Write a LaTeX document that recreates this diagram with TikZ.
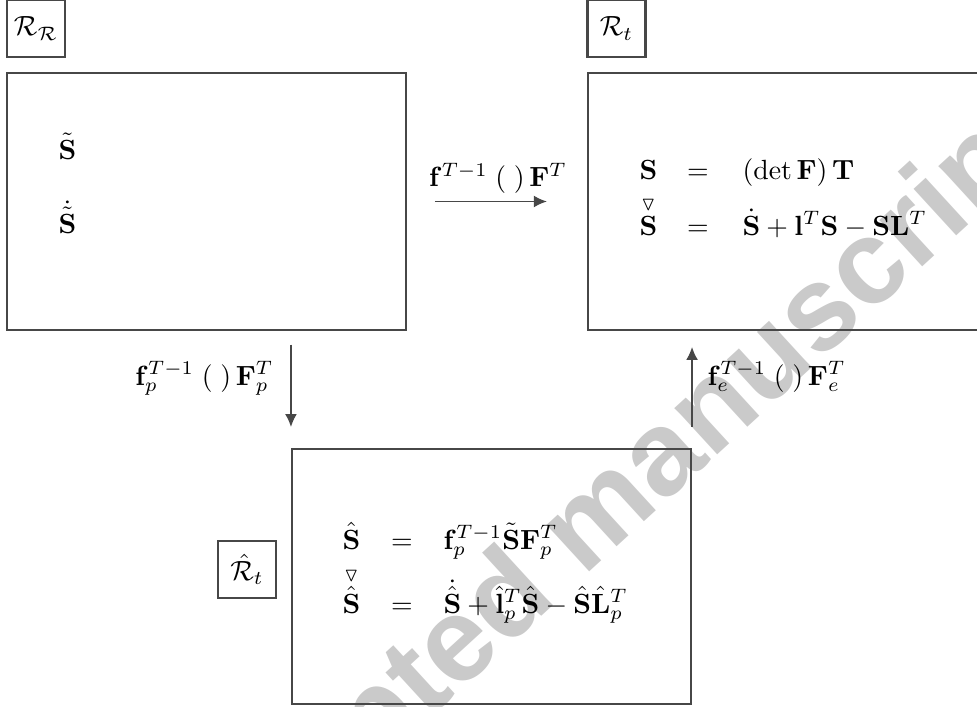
\documentclass[tikz,border=0pt]{standalone}
\usepackage{amsmath,amssymb}
\usepackage[no-math]{fontspec}
\newfontfamily\wmfont{Liberation Sans}
\usetikzlibrary{arrows.meta}
\definecolor{lc}{HTML}{474747}
\definecolor{wm}{HTML}{CACACA}
\begin{document}
\begin{tikzpicture}[x=0.36pt,y=-0.36pt,
  box/.style={draw=lc, line width=0.75pt, inner sep=0pt, minimum width=143.64pt, minimum height=92.3pt},
  lbl/.style={draw=lc, line width=0.75pt, minimum width=20.9pt, minimum height=20.5pt, inner sep=0pt},
  arr/.style={draw=lc, line width=0.7pt, -{Latex[length=4.7pt,width=4.3pt]}},
  txt/.style={inner sep=0pt, anchor=base west},
  eqs/.style={inner sep=0pt, anchor=base}]
\clip (0,0) rectangle (977,707);
% watermark
\node[rotate=42.5, text=wm, inner sep=0pt, font=\wmfont\bfseries\fontsize{43}{50}\selectfont] (wmk) at (590,530) {Accepted manuscript};
% frame labels
\node[lbl] (lR) at (36,28.5) {$\mathcal{R}_{\mathcal{R}}$};
\node[lbl] (lt) at (616.5,28.5) {$\mathcal{R}_t$};
\node[lbl] (lh) at (247,569.5) {$\hat{\mathcal{R}}_t$};
% boxes
\node[box] (b1) at (206.5,201.5) {};
\node[box] (b2) at (787.5,201.5) {};
\node[box, minimum height=91.8pt] (b3) at (491.5,576.5) {};
% box 1 contents
\node[txt] (s1) at (58,159) {$\tilde{\mathbf{S}}$};
\node[txt] (s2) at (58,233) {$\dot{\tilde{\mathbf{S}}}$};
% box 2 contents
\node[txt] (a1) at (639,179) {$\mathbf{S}$};
\node[eqs] (a1e) at (698,179) {$=$};
\node[txt] (a1r) at (742,179) {$(\det\mathbf{F})\,\mathbf{T}$};
\node[txt] (a2) at (639,235) {$\overset{\triangledown}{\mathbf{S}}$};
\node[eqs] (a2e) at (698,235) {$=$};
\node[txt] (a2r) at (742,235) {$\dot{\mathbf{S}}+\mathbf{l}^T\mathbf{S}-\mathbf{S}\mathbf{L}^T$};
% box 3 contents
\node[txt] (c1) at (342,549) {$\hat{\mathbf{S}}$};
\node[eqs] (c1e) at (402,549) {$=$};
\node[txt] (c1r) at (443,549) {$\mathbf{f}_p^{T-1}\tilde{\mathbf{S}}\mathbf{F}_p^T$};
\node[txt] (c2) at (342,613) {$\overset{\triangledown}{\hat{\mathbf{S}}}$};
\node[eqs] (c2e) at (402,613) {$=$};
\node[txt] (c2r) at (443,613) {$\dot{\hat{\mathbf{S}}}+\hat{\mathbf{l}}_p^T\hat{\mathbf{S}}-\hat{\mathbf{S}}\hat{\mathbf{L}}_p^T$};
% arrows
\draw[arr, shorten <=10pt, shorten >=14.4pt] (b1.east) -- (b2.west);
\draw[arr, shorten <=5pt, shorten >=7.5pt] (b3.north west |- b1.south) -- (b3.north west);
\draw[arr, shorten <=7.6pt, shorten >=5.8pt] (b3.north east) -- (b3.north east |- b2.south);
% arrow labels
\node[eqs] (la1) at (498,187) {$\mathbf{f}^{T-1}\;(\;)\,\mathbf{F}^{T}$};
\node[inner sep=0pt, anchor=base east] (la2) at (274,385) {$\mathbf{f}_p^{T-1}\;(\;)\,\mathbf{F}_p^{T}$};
\node[inner sep=0pt, anchor=base west] (la3) at (707,385) {$\mathbf{f}_e^{T-1}\;(\;)\,\mathbf{F}_e^{T}$};
\end{tikzpicture}
\end{document}
